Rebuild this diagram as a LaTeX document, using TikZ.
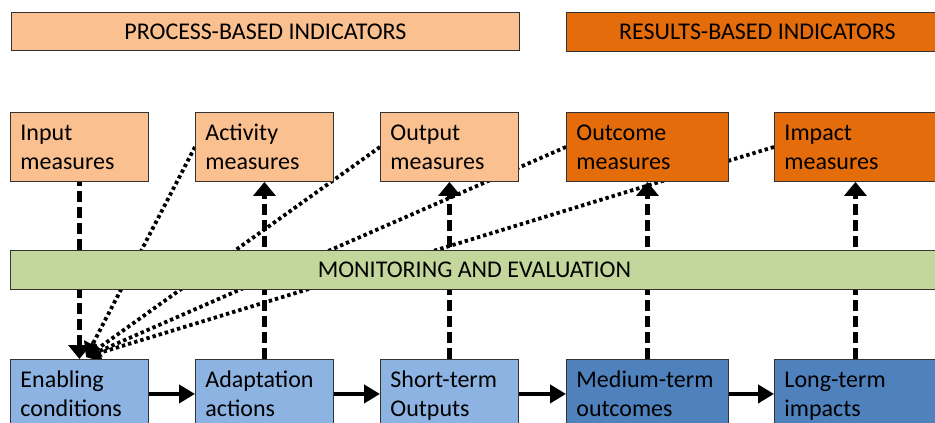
\documentclass[tikz,border=0pt]{standalone}
\usepackage{fontspec}
\setmainfont{Carlito}
\usetikzlibrary{arrows.meta,backgrounds}
\definecolor{lorange}{HTML}{FAC090}
\definecolor{dorange}{HTML}{E46C0A}
\definecolor{lgreen}{HTML}{C3D69B}
\definecolor{lblue}{HTML}{8DB3E2}
\definecolor{dblue}{HTML}{4F81BD}
\tikzset{
  box/.style={draw=black!80,line width=0.9pt,anchor=north west,minimum height=69pt,
    inner xsep=10pt,inner ysep=0pt,text width=118pt,align=left,
    execute at begin node={\rule{0pt}{22pt}},
    execute at end node={\rule[-6pt]{0pt}{6pt}}},
  wide/.style={text width=142pt},
  band/.style={draw=black!80,line width=0.9pt,anchor=north west,inner sep=0pt},
  dsh/.style={line width=4.2pt,dash pattern=on 11pt off 5pt,-{Triangle[length=14pt,width=22pt]}},
  dot/.style={line width=3.8pt,dash pattern=on 3.4pt off 3pt,-{Triangle[length=14pt,width=18pt]}},
  flow/.style={line width=4.4pt,-{Triangle[length=16pt,width=18pt]}}
}
\begin{document}
\begin{tikzpicture}[x=1pt,y=-1pt,font=\fontsize{24}{29}\selectfont]
\clip (0,0) rectangle (935,423);

% headers
\node[band,fill=lorange,minimum width=508pt,minimum height=38pt] (proc) at (11,12) {PROCESS-BASED INDICATORS};
\node[band,fill=dorange,minimum width=382pt,minimum height=39pt] (res) at (566,12) {RESULTS-BASED INDICATORS};

% measures
\node[box,fill=lorange] (inp) at (10,112) {Input\\measures};
\node[box,fill=lorange] (act) at (195,112) {Activity\\measures};
\node[box,fill=lorange] (outp) at (380,112) {Output\\measures};
\node[box,wide,fill=dorange] (outc) at (566,112) {Outcome\\measures};
\node[box,wide,fill=dorange] (imp) at (774,112) {Impact\\measures};

\node[band,fill=lgreen,minimum width=928pt,minimum height=39pt] (me) at (10,250) {MONITORING AND EVALUATION};

% results chain
\node[box,fill=lblue] (enab) at (10,359) {Enabling\\conditions};
\node[box,fill=lblue] (adapt) at (195,359) {Adaptation\\actions};
\node[box,fill=lblue] (short) at (380,359) {Short-term\\Outputs};
\node[box,wide,fill=dblue] (med) at (566,359) {Medium-term\\outcomes};
\node[box,wide,fill=dblue] (long) at (774,359) {Long-term\\impacts};

\coordinate (hub) at (86,357);

\begin{scope}[on background layer]
\draw[dsh,{Triangle[length=14pt,width=22pt]}-] (enab.north) -- (inp.south);
\foreach \a/\b in {adapt/act,short/outp,med/outc,long/imp}
  \draw[dsh] (\a.north) -- (\b.south);
\foreach \m in {act,outp,outc,imp}
  \draw[dot] (\m.west) -- (hub);
\end{scope}

\draw[flow] (enab.east) -- (adapt.west);
\draw[flow] (adapt.east) -- (short.west);
\draw[flow] (short.east) -- (med.west);
\draw[flow] (med.east) -- (long.west);

\end{tikzpicture}
\end{document}
